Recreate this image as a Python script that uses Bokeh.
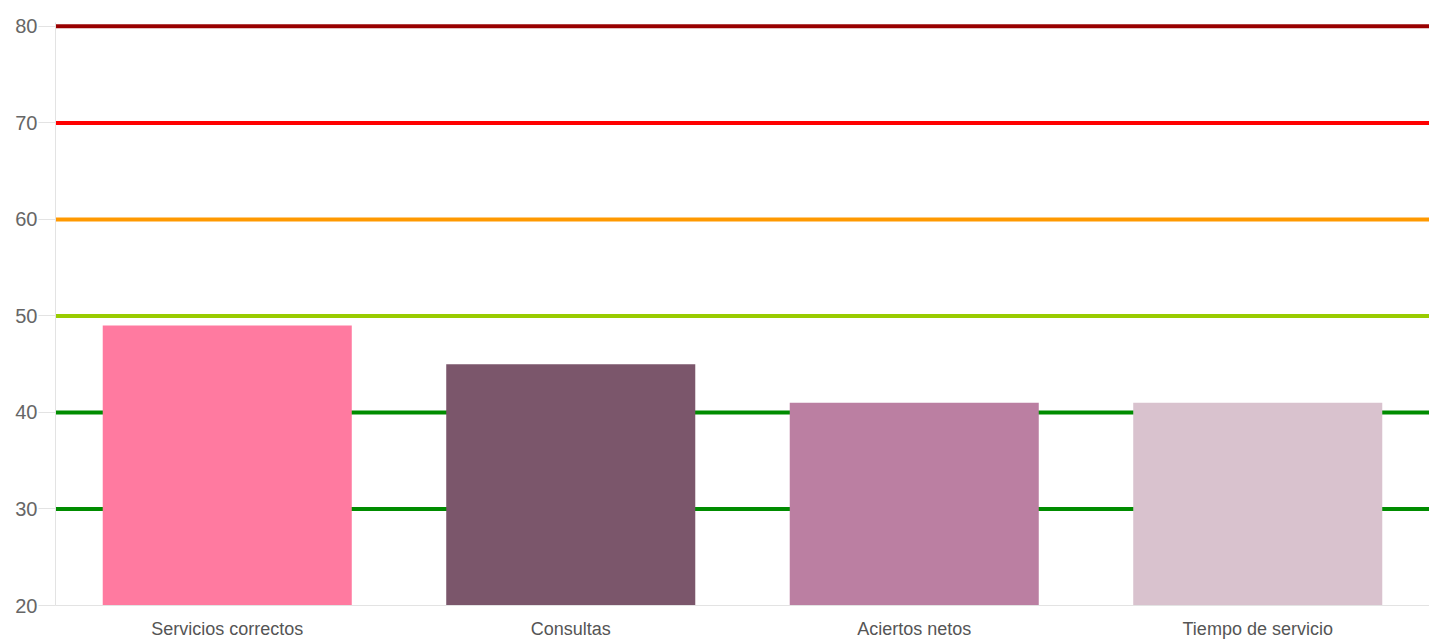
from bokeh.plotting import figure
from bokeh.models import Span, ColumnDataSource, FixedTicker
from bokeh.embed import file_html
from bokeh.resources import INLINE

categories = ["Servicios correctos", "Consultas", "Aciertos netos", "Tiempo de servicio"]
values = [49, 45, 41, 41]
bar_colors = ["#ff7aa0", "#7b566b", "#bb7fa2", "#d9c2ce"]

thresholds = [30, 40, 50, 60, 70, 80]
threshold_colors = ["#008c00", "#008c00", "#99cc00", "#ff9900", "#ff0000", "#990000"]

y_ticks = [20, 30, 40, 50, 60, 70, 80]

src = ColumnDataSource(dict(cat=categories, val=values, color=bar_colors,
                            base=[20] * len(values)))

p = figure(x_range=categories, y_range=(20, 80.4), width=1429, height=641,
           output_backend="svg", toolbar_location=None,
           min_border_left=55, min_border_right=0, min_border_top=22,
           min_border_bottom=36)
p.outline_line_color = None
p.xgrid.grid_line_color = None
p.ygrid.grid_line_color = None
p.background_fill_color = "white"

for t, c in zip(thresholds, threshold_colors):
    p.add_layout(Span(location=t, dimension="width", line_color=c,
                      line_width=4, level="underlay"))

p.vbar(x="cat", top="val", bottom="base", width=0.725, fill_color="color",
       line_color=None, source=src)

p.yaxis.ticker = FixedTicker(ticks=y_ticks)
p.yaxis.axis_line_color = "#e3e3e3"
p.yaxis.major_tick_line_color = "#e3e3e3"
p.yaxis.major_tick_out = 17
p.yaxis.major_tick_in = 0
p.yaxis.minor_tick_line_color = None
p.yaxis.major_label_text_font = "Liberation Sans"
p.yaxis.major_label_text_font_size = "20px"
p.yaxis.major_label_text_color = "#666666"
p.yaxis.major_label_standoff = 1

p.xaxis.axis_line_color = "#e3e3e3"
p.xaxis.major_tick_line_color = None
p.xaxis.minor_tick_line_color = None
p.xaxis.major_label_text_font = "Liberation Sans"
p.xaxis.major_label_text_font_size = "18px"
p.xaxis.major_label_text_color = "#555555"
p.xaxis.major_label_standoff = 7

open("out.html", "w").write(file_html(p, INLINE))
